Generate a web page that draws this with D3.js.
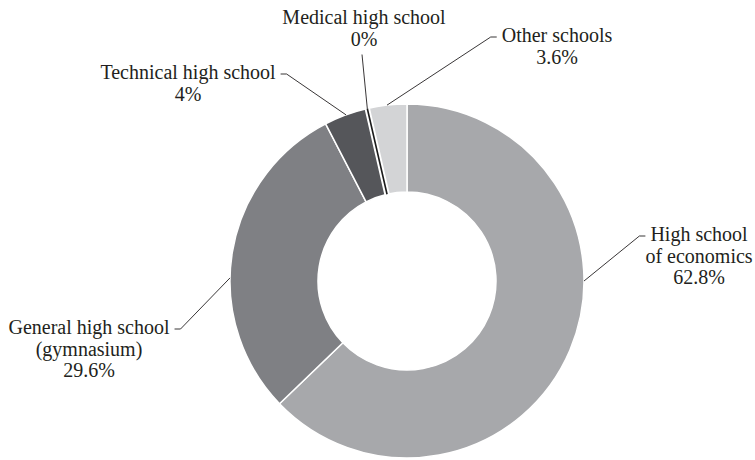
<!DOCTYPE html>
<html>
<head>
<meta charset="utf-8">
<script src="https://cdn.jsdelivr.net/npm/d3@7/dist/d3.min.js"></script>
<style>
  html, body { margin: 0; padding: 0; background: #fff; }
  svg { display: block; }
</style>
</head>
<body>
<svg id="chart" width="755" height="460"></svg>
<script>
// School types, share of students (%)
const categories = [
  "High school of economics",
  "General high school (gymnasium)",
  "Technical high school",
  "Medical high school",
  "Other schools"
];
const values = [62.8, 29.6, 4, 0, 3.6];
const labelLines = [
  ["High school", "of economics"],
  ["General high school", "(gymnasium)"],
  ["Technical high school"],
  ["Medical high school"],
  ["Other schools"]
];
const colors = ["#a7a8ab", "#7f8084", "#55565a", "#1c1c1c", "#d3d4d6"];

// Layout of the ring and of the label blocks
const width = 755, height = 460;
const cx = 407, cy = 281;
const outerR = 177, innerR = 89;
const lineH = 21.5;
const fontFamily = "'Liberation Serif', 'Times New Roman', Times, serif";
const fontSize = 20;
// x: centre of the text block, y: first baseline, side: where the leader leaves the text,
// edge: angle (deg, clockwise from top) at which the leader meets the ring; null = slice middle
const labelLayout = [
  { x: 699, y: 241, side: "right", edge: 90 },
  { x: 89,  y: 334, side: "left",  edge: 271 },
  { x: 188, y: 79,  side: "left",  edge: null },
  { x: 364, y: 24,  side: "below", edge: null },
  { x: 557, y: 42,  side: "right", edge: null }
];

const svg = d3.select("#chart");
const g = svg.append("g").attr("transform", `translate(${cx},${cy})`);

const pie = d3.pie().sort(null).value(d => d.value);
const data = categories.map((c, i) => ({ name: c, value: values[i], i }));
const arcs = pie(data);
const arc = d3.arc().innerRadius(innerR).outerRadius(outerR);

// Slices with thin white separators
g.selectAll("path.slice")
  .data(arcs.filter(a => a.data.value > 0))
  .join("path")
  .attr("class", "slice")
  .attr("d", arc)
  .attr("fill", d => colors[d.data.i])
  .attr("stroke", "#fff")
  .attr("stroke-width", 1.5)
  .attr("stroke-linejoin", "round");

// Zero-share slices drawn as a hairline wedge with white margins
const zeroArcs = arcs.filter(a => a.data.value === 0);
g.selectAll("path.zero-gap")
  .data(zeroArcs)
  .join("path")
  .attr("class", "zero-gap")
  .attr("d", arc)
  .attr("fill", "none")
  .attr("stroke", "#fff")
  .attr("stroke-width", 5.5);
g.selectAll("path.zero")
  .data(zeroArcs)
  .join("path")
  .attr("class", "zero")
  .attr("d", arc)
  .attr("fill", "none")
  .attr("stroke", d => colors[d.data.i])
  .attr("stroke-width", 1.6);

// Labels
const fmt = v => `${d3.format("~f")(v)}%`;
const labels = svg.append("g")
  .attr("font-family", fontFamily)
  .attr("font-size", fontSize)
  .attr("fill", "#231f20");
const leaders = svg.append("g")
  .attr("fill", "none")
  .attr("stroke", "#231f20")
  .attr("stroke-width", 0.9);

arcs.forEach(a => {
  const i = a.data.i;
  const L = labelLayout[i];
  const lines = labelLines[i].concat([fmt(a.data.value)]);
  const t = labels.append("text").attr("text-anchor", "middle");
  lines.forEach((ln, k) => {
    t.append("tspan").attr("x", L.x).attr("y", L.y + k * lineH).text(ln);
  });

  // point on the outer edge of the ring
  const ang = L.edge !== null ? L.edge * Math.PI / 180 : (a.startAngle + a.endAngle) / 2;
  const ex = cx + outerR * Math.sin(ang);
  const ey = cy - outerR * Math.cos(ang);

  const first = t.select("tspan").node();
  const w = first.getComputedTextLength();
  let pts;
  if (L.side === "left") {
    const x0 = L.x + w / 2 + 5, yy = L.y - 5;
    pts = [[x0, yy], [x0 + 6, yy], [ex, ey]];
  } else if (L.side === "right") {
    const x0 = L.x - w / 2 - 5, yy = L.y - 5;
    pts = [[x0, yy], [x0 - 6, yy], [ex, ey]];
  } else {
    pts = [[L.x - 2, L.y + (lines.length - 1) * lineH + 9], [ex, ey]];
  }
  leaders.append("path").attr("d", d3.line()(pts));
});
</script>
</body>
</html>
